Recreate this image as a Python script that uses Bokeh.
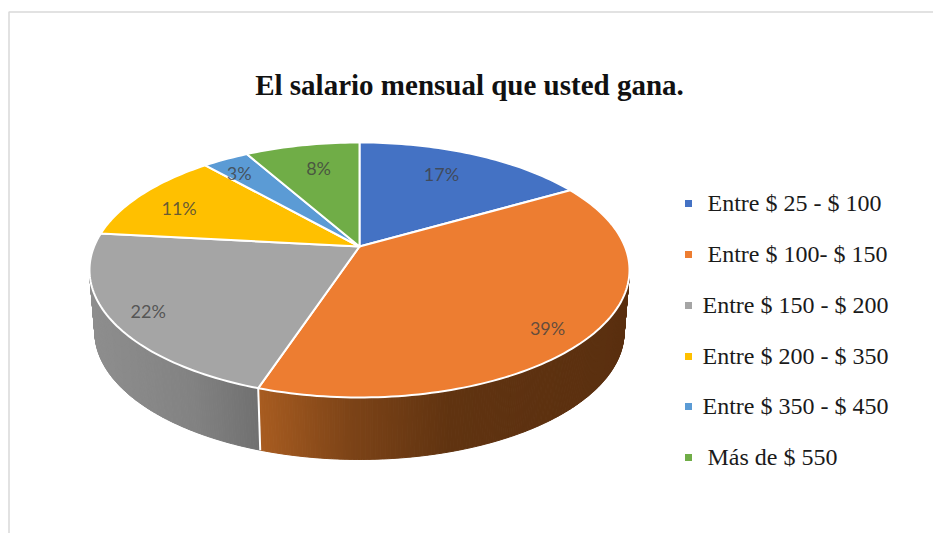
import math
from bokeh.plotting import figure
from bokeh.models import Range1d
from bokeh.core.properties import value
from bokeh.embed import file_html
from bokeh.resources import INLINE

title = "El salario mensual que usted gana."
categories = ["Entre $ 25 - $ 100", "Entre $ 100- $ 150", "Entre $ 150 - $ 200",
              "Entre $ 200 - $ 350", "Entre $ 350 - $ 450", "Más de $ 550"]
shares = [16.7, 38.4, 21.6, 11.8, 3.3, 8.2]
pct_labels = ["17%", "39%", "22%", "11%", "3%", "8%"]
colors = ["#4472C4", "#ED7D31", "#A5A5A5", "#FFC000", "#5B9BD5", "#70AD47"]

# layout
CX, CY, A, B, K = 359.0, 246.0, 265.4, 123.2, 0.184
DEPTH, BOTTOM_SCALE = 62.0, 0.98
label_r = [0.75, 0.866, 0.87, 0.795, 0.845, 0.738]
label_shift = [-0.7, 1.1, -0.2, -0.7, -0.45, 0.3]
legend_x, legend_text_x = 688, [707, 707, 702, 702, 702, 707]
legend_y = [203, 254, 305, 356, 406, 457]
legend_text_y = [202, 253, 304, 355, 405, 456]
wall_stops = {
    2: [(89, (0x8E, 0x8E, 0x8E)), (190, (0x82, 0x82, 0x82)), (258, (0x70, 0x70, 0x70))],
    1: [(258, (0xA8, 0x5C, 0x20)), (350, (0x7C, 0x43, 0x17)), (450, (0x60, 0x33, 0x10)), (629, (0x5A, 0x2F, 0x0F))],
}


def project(turn, r=1.0):
    t = turn / 100 * 2 * math.pi
    X, Z = r * math.sin(t), r * math.cos(t)
    w = 1 + K * Z
    return CX + A * X / w, CY - B * Z / w


def wall_color(seg, x):
    stops = wall_stops[seg]
    if x <= stops[0][0]:
        c = stops[0][1]
    elif x >= stops[-1][0]:
        c = stops[-1][1]
    else:
        for (x0, c0), (x1, c1) in zip(stops, stops[1:]):
            if x0 <= x <= x1:
                f = (x - x0) / (x1 - x0)
                c = tuple(round(a + (b - a) * f) for a, b in zip(c0, c1))
                break
    return "#%02x%02x%02x" % tuple(c)


p = figure(width=933, height=533, x_range=Range1d(0, 933), y_range=Range1d(533, 0),
           toolbar_location=None, output_backend="svg", min_border=0,
           background_fill_color="#ffffff", border_fill_color="#ffffff")
p.axis.visible = False
p.grid.visible = False
p.outline_line_color = None

# frame of the pasted picture
p.line([8.5, 8.5, 933], [533, 11.5, 11.5], line_color="#d9d9d9", line_width=1.5)

cum = [0.0]
for s in shares:
    cum.append(cum[-1] + s)

# side wall, visible between the silhouette tangents
t_lo = math.degrees(math.acos(-K)) / 3.6
t_hi = 100 - t_lo
xs, ys, cs = [], [], []
for seg in (1, 2):
    a, b = max(cum[seg], t_lo), min(cum[seg + 1], t_hi)
    n = max(2, int((b - a) * 8))
    for i in range(n):
        u0, u1 = a + (b - a) * i / n, a + (b - a) * (i + 1) / n
        x0, y0 = project(u0)
        x1, y1 = project(u1)
        bx0 = CX + (x0 - CX) * BOTTOM_SCALE
        bx1 = CX + (x1 - CX) * BOTTOM_SCALE
        xs.append([x0, x1, bx1, bx0])
        ys.append([y0, y1, y1 + DEPTH, y0 + DEPTH])
        cs.append(wall_color(seg, (x0 + x1) / 2))
p.patches(xs, ys, fill_color=cs, line_color=cs, line_width=1)

# white seam between wall segments
sx, sy = project(cum[2])
p.line([sx, CX + (sx - CX) * BOTTOM_SCALE], [sy, sy + DEPTH], line_color="#ffffff", line_width=2)

# top face
wx, wy = [], []
for i in range(len(shares)):
    n = max(4, int(shares[i] * 3))
    pts = [project(cum[i] + shares[i] * j / n) for j in range(n + 1)]
    wx.append([CX] + [q[0] for q in pts])
    wy.append([CY] + [q[1] for q in pts])
p.patches(wx, wy, fill_color=colors, line_color="#ffffff", line_width=2, line_join="round")

# percentage labels
lx, ly = [], []
for i in range(len(shares)):
    x, y = project((cum[i] + cum[i + 1]) / 2 + label_shift[i], label_r[i])
    lx.append(x)
    ly.append(y)
p.text(lx, ly, text=pct_labels, text_font=value("Lato"), text_font_size="18px",
       text_color="#404040", text_alpha=0.8, text_align="center", text_baseline="middle")

# title
p.text([469], [84], text=[title], text_font=value("Liberation Serif"), text_font_size="29px",
       text_font_style="bold", text_color="#111111", text_align="center", text_baseline="middle")

# legend
p.scatter([legend_x] * 6, legend_y, marker="square", size=7, fill_color=colors, line_color=None)
p.text(legend_text_x, legend_text_y, text=categories, text_font=value("Liberation Serif"),
       text_font_size="24px", text_color="#1a1a1a", text_align="left", text_baseline="middle")

open("out.html", "w").write(file_html(p, INLINE))
